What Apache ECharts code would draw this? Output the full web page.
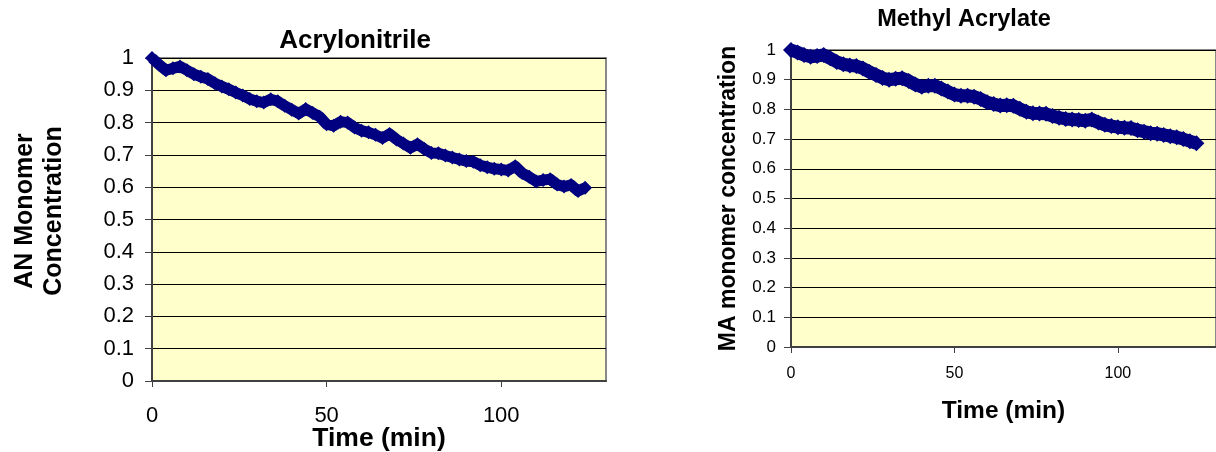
<!DOCTYPE html>
<html><head><meta charset="utf-8">
<script src="https://cdn.jsdelivr.net/npm/echarts@6/dist/echarts.min.js"></script>
<style>html,body{margin:0;padding:0;background:#fff}#c{width:1216px;height:452px}</style>
</head><body><div id="c"></div>
<script>
// Sampling times (min)
const timeMin = [0,2,4,6,8,10,12,14,16,18,20,22,24,26,28,30,32,34,36,38,40,42,44,46,48,50,52,54,56,58,60,62,64,66,68,70,72,74,76,78,80,82,84,86,88,90,92,94,96,98,100,102,104,106,108,110,112,114,116,118,120,122,124];
// Acrylonitrile monomer concentration
const anConc = [1.000,0.980,0.962,0.968,0.974,0.962,0.950,0.942,0.935,0.922,
  0.912,0.903,0.893,0.884,0.873,0.866,0.862,0.872,0.866,0.852,
  0.840,0.828,0.842,0.830,0.818,0.795,0.790,0.803,0.800,0.785,
  0.775,0.770,0.762,0.752,0.765,0.748,0.735,0.722,0.733,0.718,
  0.706,0.705,0.698,0.692,0.686,0.681,0.679,0.668,0.662,0.657,
  0.655,0.652,0.665,0.644,0.632,0.618,0.622,0.625,0.608,0.602,
  0.607,0.588,0.598];
// Methyl acrylate monomer concentration
const maConc = [1.000,0.992,0.983,0.977,0.980,0.983,0.972,0.960,0.952,0.948,
  0.946,0.938,0.926,0.916,0.906,0.900,0.903,0.905,0.896,0.884,
  0.876,0.880,0.880,0.870,0.860,0.850,0.846,0.846,0.843,0.835,
  0.824,0.818,0.813,0.814,0.812,0.802,0.792,0.787,0.786,0.785,
  0.778,0.772,0.768,0.766,0.764,0.762,0.766,0.756,0.748,0.744,
  0.740,0.738,0.737,0.730,0.725,0.720,0.718,0.714,0.710,0.706,
  0.700,0.693,0.686];
const xTicks = [0,50,100];
const titles = ['Acrylonitrile','Methyl Acrylate'];
const yNames = ['AN Monomer\nConcentration','MA monomer concentration'];
const xName = 'Time (min)';

const FONT = '"Liberation Sans", Arial, sans-serif';
const anData = timeMin.map((t,i)=>[t, anConc[i]]);
const maData = timeMin.map((t,i)=>[t, maConc[i]]);

function xAx(idx, fs, margin, nfs, gap){
  return {type:'value', gridIndex:idx, min:0, max:130, interval:50,
    axisLine:{show:true, onZero:false, lineStyle:{color:'#404040', width:2}},
    axisTick:{show:true, length:6, customValues:xTicks, lineStyle:{color:'#404040', width:1}},
    axisLabel:{customValues:xTicks, fontSize:fs, margin:margin, color:'#000', fontFamily:FONT},
    splitLine:{show:false},
    name:xName, nameLocation:'middle', nameGap:gap, nameMoveOverlap:false,
    nameTextStyle:{fontSize:nfs, fontWeight:'bold', color:'#000', fontFamily:FONT}};
}
function yAx(idx, fs, margin, name, nfs, gap, lh, pad){
  return {type:'value', gridIndex:idx, min:0, max:1, interval:0.1,
    axisLine:{show:true, onZero:false, lineStyle:{color:'#404040', width:2}},
    axisTick:{show:true, length:7, lineStyle:{color:'#404040', width:1}},
    axisLabel:{fontSize:fs, margin:margin, color:'#000', fontFamily:FONT},
    splitLine:{show:true, lineStyle:{color:'#000', width:1}},
    name:name, nameLocation:'middle', nameGap:gap, nameMoveOverlap:false,
    nameTextStyle:{fontSize:nfs, fontWeight:'bold', color:'#000', fontFamily:FONT, lineHeight:lh, padding:pad}};
}
function band(xi, data, sym, lw){
  return {type:'line', xAxisIndex:xi, yAxisIndex:xi, data:data, symbol:'diamond', symbolSize:sym,
    showAllSymbol:true, clip:false,
    lineStyle:{color:'#000080', width:lw, join:'round'},
    itemStyle:{color:'#000080', opacity:1, borderWidth:0}};
}

const chart = echarts.init(document.getElementById('c'), null, {renderer:'canvas'});
chart.setOption({
  animation:false,
  backgroundColor:'#fff',
  title:[
    {text:titles[0], left:355, top:28, textAlign:'center', padding:0,
     textStyle:{fontSize:26, fontWeight:'bold', color:'#000', fontFamily:FONT}},
    {text:titles[1], left:964, top:8, textAlign:'center', padding:0,
     textStyle:{fontSize:23.5, fontWeight:'bold', color:'#000', fontFamily:FONT}}
  ],
  grid:[
    {left:152, top:58, width:454, height:323, show:true, backgroundColor:'#FFFFCC', borderColor:'#888', borderWidth:2,
     containLabel:false, outerBoundsMode:'none'},
    {left:791, top:50, width:425, height:297, show:true, backgroundColor:'#FFFFCC', borderColor:'#888', borderWidth:2,
     containLabel:false, outerBoundsMode:'none'}
  ],
  xAxis:[ xAx(0, 22, 24, 26.5, 44), xAx(1, 16, 19, 24.5, 52) ],
  yAxis:[ yAx(0, 22, 18, yNames[0], 25, 83, 29, [0,0,0,17]),
          yAx(1, 17, 15, yNames[1], 23, 51, 23, 0) ],
  series:[ band(0, anData, 14, 11), band(1, maData, 16, 13) ]
});
</script></body></html>
